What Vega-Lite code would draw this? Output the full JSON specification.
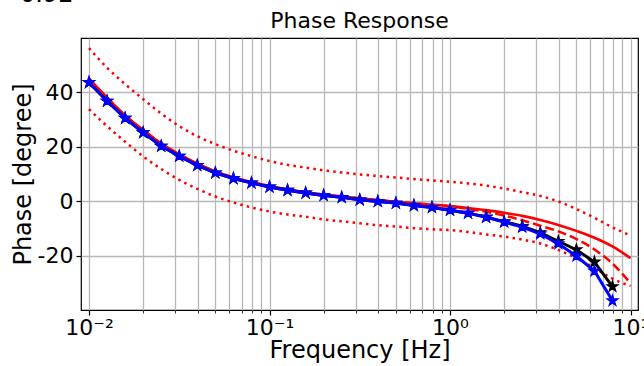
{
  "$schema": "https://vega.github.io/schema/vega-lite/v6.json",
  "width": 557,
  "height": 272,
  "autosize": "none",
  "padding": {"left": 81, "top": 38, "right": 6, "bottom": 56},
  "background": "white",
  "title": {"text": "0.92\u00a0\u00a0\u00a0\u00a0\u00a0\u00a0\u00a0\u00a0\u00a0\u00a0\u00a0\u00a0\u00a0\u00a0\u00a0\u00a0\u00a0\u00a0\u00a0\u00a0\u00a0\u00a0\u00a0\u00a0\u00a0\u00a0\u00a0\u00a0\u00a0\u00a0\u00a0\u00a0\u00a0\u00a0\u00a0\u00a0\u00a0\u00a0\u00a0\u00a0\u00a0\u00a0\u00a0\u00a0\u00a0\u00a0\u00a0\u00a0\u00a0\u00a0\u00a0\u00a0\u00a0\u00a0\u00a0\u00a0\u00a0\u00a0\u00a0\u00a0\u00a0\u00a0\u00a0\u00a0\u00a0\u00a0\u00a0\u00a0\u00a0\u00a0\u00a0\u00a0\u00a0\u00a0\u00a0\u00a0\u00a0\u00a0\u00a0\u00a0\u00a0\u00a0\u200b", "subtitle": "Phase Response", "anchor": "middle", "frame": "group", "fontSize": 24, "subtitleFontSize": 22, "font": "DejaVu Sans", "subtitleFont": "DejaVu Sans", "fontWeight": "normal", "color": "black", "subtitleColor": "black", "subtitlePadding": 4, "offset": 6},
  "config": {
    "font": "DejaVu Sans",
    "view": {"stroke": "black", "strokeWidth": 1.2},
    "axis": {"labelFont": "DejaVu Sans", "titleFont": "DejaVu Sans", "labelColor": "black", "titleColor": "black", "titleFontWeight": "normal", "gridColor": "#b8b8b8", "gridWidth": 1.3, "gridOpacity": 1, "tickColor": "black", "domainColor": "black"}
  },
  "datasets": {
    "upper": [
      {"f": 0.01, "v": 56.2}, {"f": 0.01259, "v": 49.0}, {"f": 0.01585, "v": 43.0}, {"f": 0.01995, "v": 37.5}, {"f": 0.02512, "v": 32.2},
      {"f": 0.03162, "v": 27.6}, {"f": 0.03981, "v": 23.9}, {"f": 0.05012, "v": 21.0}, {"f": 0.0631, "v": 18.6}, {"f": 0.07943, "v": 16.6},
      {"f": 0.1, "v": 14.8}, {"f": 0.1259, "v": 13.4}, {"f": 0.1585, "v": 12.4}, {"f": 0.1995, "v": 11.4}, {"f": 0.2512, "v": 10.6},
      {"f": 0.3162, "v": 9.9}, {"f": 0.3981, "v": 9.3}, {"f": 0.5012, "v": 8.8}, {"f": 0.631, "v": 8.2}, {"f": 0.7943, "v": 7.7},
      {"f": 1, "v": 7.2}, {"f": 1.259, "v": 6.6}, {"f": 1.585, "v": 5.8}, {"f": 1.995, "v": 4.7}, {"f": 2.512, "v": 3.4},
      {"f": 3.162, "v": 2.0}, {"f": 3.981, "v": 0.0}, {"f": 5.012, "v": -2.8}, {"f": 6.31, "v": -6.0}, {"f": 7.943, "v": -9.5}, {"f": 10, "v": -12.5}
    ],
    "lower": [
      {"f": 0.01, "v": 33.8}, {"f": 0.01259, "v": 27.6}, {"f": 0.01585, "v": 21.9}, {"f": 0.01995, "v": 16.5}, {"f": 0.02512, "v": 11.9},
      {"f": 0.03162, "v": 7.9}, {"f": 0.03981, "v": 4.6}, {"f": 0.05012, "v": 1.8}, {"f": 0.0631, "v": -0.4}, {"f": 0.07943, "v": -2.2},
      {"f": 0.1, "v": -3.7}, {"f": 0.1259, "v": -4.8}, {"f": 0.1585, "v": -5.6}, {"f": 0.1995, "v": -6.6}, {"f": 0.2512, "v": -7.3},
      {"f": 0.3162, "v": -8.0}, {"f": 0.3981, "v": -8.7}, {"f": 0.5012, "v": -9.2}, {"f": 0.631, "v": -9.8}, {"f": 0.7943, "v": -10.2},
      {"f": 1, "v": -10.5}, {"f": 1.259, "v": -11.2}, {"f": 1.585, "v": -12.1}, {"f": 1.995, "v": -12.9}, {"f": 2.512, "v": -14.0},
      {"f": 3.162, "v": -15.4}, {"f": 3.981, "v": -17.8}, {"f": 5.012, "v": -20.8}, {"f": 6.31, "v": -24.4}, {"f": 7.943, "v": -28.3}, {"f": 10, "v": -31.0}
    ],
    "model": [
      {"f": 0.01, "v": 45.0}, {"f": 0.01259, "v": 38.0}, {"f": 0.01585, "v": 31.5}, {"f": 0.01995, "v": 26.2}, {"f": 0.02512, "v": 21.2},
      {"f": 0.03162, "v": 17.3}, {"f": 0.03981, "v": 13.8}, {"f": 0.05012, "v": 11.0}, {"f": 0.0631, "v": 8.8}, {"f": 0.07943, "v": 7.1},
      {"f": 0.1, "v": 5.6}, {"f": 0.1259, "v": 4.4}, {"f": 0.1585, "v": 3.4}, {"f": 0.1995, "v": 2.5}, {"f": 0.2512, "v": 1.8},
      {"f": 0.3162, "v": 1.1}, {"f": 0.3981, "v": 0.5}, {"f": 0.5012, "v": -0.1}, {"f": 0.631, "v": -0.7}, {"f": 0.7943, "v": -1.2},
      {"f": 1, "v": -1.7}, {"f": 1.259, "v": -2.4}, {"f": 1.585, "v": -3.2}, {"f": 1.995, "v": -4.2}, {"f": 2.512, "v": -5.3},
      {"f": 3.162, "v": -6.8}, {"f": 3.981, "v": -8.6}, {"f": 5.012, "v": -10.8}, {"f": 6.31, "v": -13.3}, {"f": 7.943, "v": -16.5}, {"f": 10, "v": -20.8}
    ],
    "dashed": [
      {"f": 0.01, "v": 45.0}, {"f": 0.01259, "v": 38.0}, {"f": 0.01585, "v": 31.5}, {"f": 0.01995, "v": 26.2}, {"f": 0.02512, "v": 21.2},
      {"f": 0.03162, "v": 17.3}, {"f": 0.03981, "v": 13.8}, {"f": 0.05012, "v": 11.0}, {"f": 0.0631, "v": 8.8}, {"f": 0.07943, "v": 7.1},
      {"f": 0.1, "v": 5.6}, {"f": 0.1259, "v": 4.4}, {"f": 0.1585, "v": 3.4}, {"f": 0.1995, "v": 2.5}, {"f": 0.2512, "v": 1.8},
      {"f": 0.3162, "v": 1.1}, {"f": 0.3981, "v": 0.5}, {"f": 0.5012, "v": -0.1}, {"f": 0.631, "v": -0.7}, {"f": 0.7943, "v": -1.2},
      {"f": 1, "v": -1.8}, {"f": 1.259, "v": -2.7}, {"f": 1.585, "v": -3.8}, {"f": 1.995, "v": -5.2}, {"f": 2.512, "v": -6.9},
      {"f": 3.162, "v": -8.9}, {"f": 3.981, "v": -11.0}, {"f": 5.012, "v": -13.8}, {"f": 6.31, "v": -17.6}, {"f": 7.943, "v": -22.8}, {"f": 10, "v": -30.0}
    ],
    "black": [
      {"f": 0.01, "v": 43.6}, {"f": 0.01259, "v": 36.8}, {"f": 0.01585, "v": 30.5}, {"f": 0.01995, "v": 25.2}, {"f": 0.02512, "v": 20.3},
      {"f": 0.03162, "v": 16.6}, {"f": 0.03981, "v": 13.2}, {"f": 0.05012, "v": 10.5}, {"f": 0.0631, "v": 8.4}, {"f": 0.07943, "v": 6.8},
      {"f": 0.1, "v": 5.3}, {"f": 0.1259, "v": 4.1}, {"f": 0.1585, "v": 3.1}, {"f": 0.1995, "v": 2.2}, {"f": 0.2512, "v": 1.5},
      {"f": 0.3162, "v": 0.6}, {"f": 0.3981, "v": 0.0}, {"f": 0.5012, "v": -0.6}, {"f": 0.631, "v": -1.5}, {"f": 0.7943, "v": -2.2},
      {"f": 1, "v": -3.2}, {"f": 1.259, "v": -4.3}, {"f": 1.585, "v": -5.7}, {"f": 1.995, "v": -7.4}, {"f": 2.512, "v": -9.1},
      {"f": 3.162, "v": -11.4}, {"f": 3.981, "v": -14.6}, {"f": 5.012, "v": -17.7}, {"f": 6.31, "v": -22.2}, {"f": 7.943, "v": -31.2}
    ],
    "blue": [
      {"f": 0.01, "v": 43.6}, {"f": 0.01259, "v": 36.8}, {"f": 0.01585, "v": 30.5}, {"f": 0.01995, "v": 25.2}, {"f": 0.02512, "v": 20.3},
      {"f": 0.03162, "v": 16.6}, {"f": 0.03981, "v": 13.2}, {"f": 0.05012, "v": 10.5}, {"f": 0.0631, "v": 8.4}, {"f": 0.07943, "v": 6.8},
      {"f": 0.1, "v": 5.3}, {"f": 0.1259, "v": 4.1}, {"f": 0.1585, "v": 3.1}, {"f": 0.1995, "v": 2.2}, {"f": 0.2512, "v": 1.5},
      {"f": 0.3162, "v": 0.6}, {"f": 0.3981, "v": 0.0}, {"f": 0.5012, "v": -0.6}, {"f": 0.631, "v": -1.5}, {"f": 0.7943, "v": -2.2},
      {"f": 1, "v": -3.2}, {"f": 1.259, "v": -4.3}, {"f": 1.585, "v": -5.8}, {"f": 1.995, "v": -7.6}, {"f": 2.512, "v": -9.4},
      {"f": 3.162, "v": -11.9}, {"f": 3.981, "v": -15.5}, {"f": 5.012, "v": -20.0}, {"f": 6.31, "v": -25.5}, {"f": 7.943, "v": -36.4}
    ]
  },
  "layer": [
    {
      "data": {"name": "upper"},
      "mark": {"type": "line", "color": "#ff0000", "strokeWidth": 2.5, "strokeDash": [2.5, 4.2], "interpolate": "monotone", "clip": true},
      "encoding": {
        "x": {"field": "f", "type": "quantitative", "scale": {"type": "log", "domain": [0.009031, 11.0], "nice": false, "zero": false},
          "axis": {"title": "Frequency [Hz]", "titleFontSize": 24, "titlePadding": 0, "labelFontSize": 22, "labelPadding": 2,
            "values": [0.01, 0.02, 0.03, 0.04, 0.05, 0.06, 0.07, 0.08, 0.09, 0.1, 0.2, 0.3, 0.4, 0.5, 0.6, 0.7, 0.8, 0.9, 1, 2, 3, 4, 5, 6, 7, 8, 9, 10],
            "labelExpr": "datum.value == 0.01 ? '10⁻²' : datum.value == 0.1 ? '10⁻¹' : datum.value == 1 ? '10⁰' : datum.value == 10 ? '10¹' : ''",
            "labelOverlap": false, "labelBound": false, "labelFlush": false, "domain": false, "grid": true,
            "tickSize": {"condition": {"test": "datum.value == 0.01 || datum.value == 0.1 || datum.value == 1 || datum.value == 10", "value": 5}, "value": 3},
            "tickWidth": {"condition": {"test": "datum.value == 0.01 || datum.value == 0.1 || datum.value == 1 || datum.value == 10", "value": 1.2}, "value": 0.8}}},
        "y": {"field": "v", "type": "quantitative", "scale": {"domain": [-39.8, 59.9], "nice": false, "zero": false},
          "axis": {"title": "Phase [degree]", "titleFontSize": 24, "titlePadding": 2, "labelFontSize": 22, "labelPadding": 3, "values": [-20, 0, 20, 40],
            "labelExpr": "'' + datum.value", "domain": false, "grid": true, "tickSize": 5, "tickWidth": 1.2}}
      }
    },
    {
      "data": {"name": "lower"},
      "mark": {"type": "line", "color": "#ff0000", "strokeWidth": 2.5, "strokeDash": [2.5, 4.2], "interpolate": "monotone", "clip": true},
      "encoding": {"x": {"field": "f", "type": "quantitative"}, "y": {"field": "v", "type": "quantitative"}}
    },
    {
      "data": {"name": "dashed"},
      "mark": {"type": "line", "color": "#ff0000", "strokeWidth": 2.5, "strokeDash": [9, 4], "interpolate": "monotone", "clip": true},
      "encoding": {"x": {"field": "f", "type": "quantitative"}, "y": {"field": "v", "type": "quantitative"}}
    },
    {
      "data": {"name": "model"},
      "mark": {"type": "line", "color": "#ff0000", "strokeWidth": 2.6, "interpolate": "monotone", "clip": true},
      "encoding": {"x": {"field": "f", "type": "quantitative"}, "y": {"field": "v", "type": "quantitative"}}
    },
    {
      "data": {"name": "black"},
      "mark": {"type": "line", "color": "black", "strokeWidth": 3, "clip": true},
      "encoding": {"x": {"field": "f", "type": "quantitative"}, "y": {"field": "v", "type": "quantitative"}}
    },
    {
      "data": {"name": "black"},
      "mark": {"type": "point", "shape": "M0,-1L0.2245,-0.309L0.9511,-0.309L0.3633,0.118L0.5878,0.809L0,0.382L-0.5878,0.809L-0.3633,0.118L-0.9511,-0.309L-0.2245,-0.309Z", "filled": true, "size": 130, "color": "black", "stroke": "black", "strokeWidth": 1.2, "opacity": 1, "clip": true},
      "encoding": {"x": {"field": "f", "type": "quantitative"}, "y": {"field": "v", "type": "quantitative"}}
    },
    {
      "data": {"name": "blue"},
      "mark": {"type": "line", "color": "#0000ff", "strokeWidth": 3, "clip": true},
      "encoding": {"x": {"field": "f", "type": "quantitative"}, "y": {"field": "v", "type": "quantitative"}}
    },
    {
      "data": {"name": "blue"},
      "mark": {"type": "point", "shape": "M0,-1L0.2245,-0.309L0.9511,-0.309L0.3633,0.118L0.5878,0.809L0,0.382L-0.5878,0.809L-0.3633,0.118L-0.9511,-0.309L-0.2245,-0.309Z", "filled": true, "size": 130, "color": "#0000ff", "stroke": "#0000ff", "strokeWidth": 1.2, "opacity": 1, "clip": true},
      "encoding": {"x": {"field": "f", "type": "quantitative"}, "y": {"field": "v", "type": "quantitative"}}
    }
  ]
}
